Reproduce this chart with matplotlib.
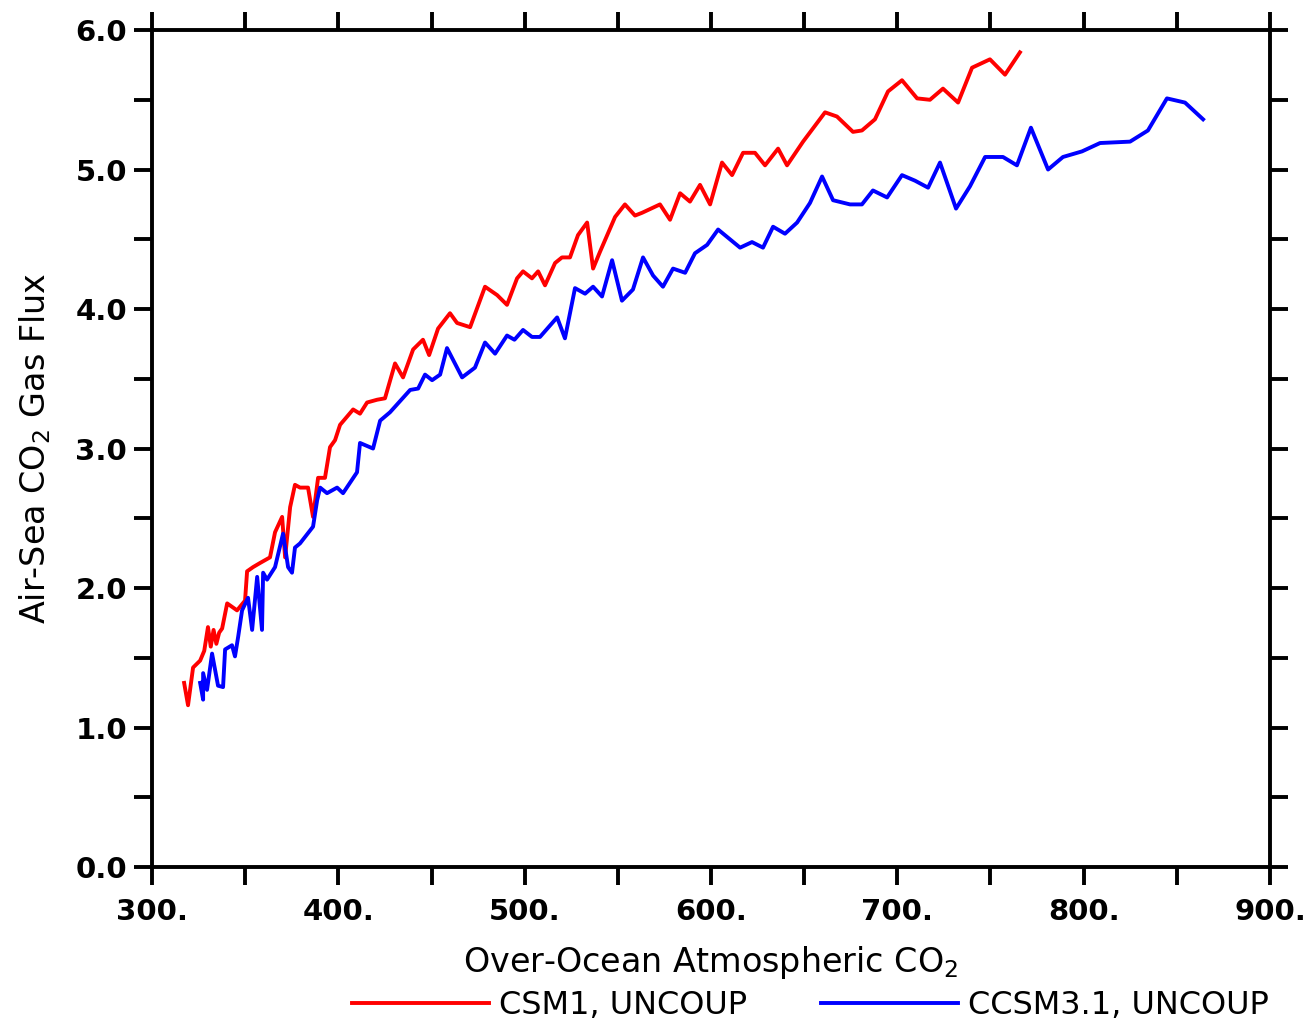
import numpy as np
import matplotlib
matplotlib.use('Agg')
import matplotlib.pyplot as plt
from matplotlib.ticker import MultipleLocator, FormatStrFormatter

# CSM1, UNCOUP
csm1_co2 = [317.2, 319.3, 320.4, 322.0, 325.8, 328.0, 330.0, 331.5, 333.0, 334.5,
            336.0, 337.6, 340.3, 345.6, 349.9, 351.0, 354.2, 358.0, 363.3, 366.0,
            369.8, 371.4, 374.1, 376.7, 379.4, 383.7, 386.4, 389.1, 392.8, 395.5,
            398.2, 400.9, 407.9, 411.6, 415.4, 420.8, 425.0, 430.4, 434.7, 440.1,
            445.4, 448.7, 453.5, 459.9, 463.7, 470.7, 478.7, 485.2, 490.5, 495.9,
            499.1, 503.9, 507.2, 510.9, 516.3, 520.0, 524.3, 528.6, 533.5, 536.7,
            540.4, 548.5, 553.8, 559.2, 563.0, 572.6, 578.0, 583.4, 588.7, 594.1,
            599.5, 605.9, 611.3, 617.2, 623.6, 629.0, 636.0, 640.8, 649.4, 661.2,
            667.6, 676.2, 681.0, 688.0, 695.0, 702.5, 710.6, 717.5, 724.5, 732.6,
            740.1, 749.7, 757.8, 765.8]
csm1_flux = [1.32, 1.16, 1.27, 1.43, 1.48, 1.55, 1.72, 1.58, 1.70, 1.60,
             1.68, 1.71, 1.89, 1.84, 1.91, 2.12, 2.15, 2.18, 2.22, 2.40,
             2.51, 2.22, 2.58, 2.74, 2.72, 2.72, 2.51, 2.79, 2.79, 3.01,
             3.06, 3.17, 3.28, 3.25, 3.33, 3.35, 3.36, 3.61, 3.51, 3.71,
             3.78, 3.67, 3.86, 3.97, 3.90, 3.87, 4.16, 4.10, 4.03, 4.22,
             4.27, 4.22, 4.27, 4.17, 4.33, 4.37, 4.37, 4.53, 4.62, 4.29,
             4.41, 4.66, 4.75, 4.67, 4.69, 4.75, 4.64, 4.83, 4.77, 4.89,
             4.75, 5.05, 4.96, 5.12, 5.12, 5.03, 5.15, 5.03, 5.20, 5.41,
             5.38, 5.27, 5.28, 5.36, 5.56, 5.64, 5.51, 5.50, 5.58, 5.48,
             5.73, 5.79, 5.68, 5.84]

# CCSM3.1, UNCOUP
ccsm3_co2 = [325.8, 327.4, 327.4, 329.5, 332.2, 335.4, 338.1, 339.2, 342.9, 344.5,
             346.2, 348.3, 351.5, 353.7, 356.4, 359.0, 359.6, 361.7, 366.0, 370.3,
             373.0, 375.1, 376.7, 379.4, 386.4, 388.6, 390.2, 393.9, 399.3, 402.5,
             410.0, 411.6, 418.6, 422.4, 427.7, 438.5, 442.8, 446.5, 450.3, 454.6,
             458.3, 466.4, 473.3, 478.7, 484.1, 490.5, 494.5, 499.1, 503.9, 508.2,
             517.4, 521.6, 527.0, 532.4, 536.7, 541.5, 546.9, 552.2, 558.1, 563.5,
             568.9, 574.2, 579.6, 586.1, 591.4, 597.9, 603.8, 615.6, 622.0, 627.9,
             633.3, 639.7, 646.2, 653.1, 659.6, 665.5, 674.6, 681.0, 686.9, 694.5,
             702.5, 709.5, 716.5, 722.9, 731.5, 739.0, 747.1, 756.7, 764.2, 771.7,
             780.9, 788.9, 799.1, 808.8, 824.9, 834.5, 844.7, 854.4, 864.1]
ccsm3_flux = [1.32, 1.20, 1.39, 1.27, 1.53, 1.30, 1.29, 1.56, 1.59, 1.51,
              1.65, 1.84, 1.93, 1.70, 2.08, 1.70, 2.11, 2.06, 2.15, 2.39,
              2.15, 2.11, 2.29, 2.32, 2.44, 2.63, 2.72, 2.68, 2.72, 2.68,
              2.83, 3.04, 3.00, 3.20, 3.26, 3.42, 3.43, 3.53, 3.49, 3.53,
              3.72, 3.51, 3.58, 3.76, 3.68, 3.81, 3.78, 3.85, 3.80, 3.80,
              3.94, 3.79, 4.15, 4.11, 4.16, 4.09, 4.35, 4.06, 4.14, 4.37,
              4.24, 4.16, 4.29, 4.26, 4.40, 4.46, 4.57, 4.44, 4.48, 4.44,
              4.59, 4.54, 4.62, 4.76, 4.95, 4.78, 4.75, 4.75, 4.85, 4.80,
              4.96, 4.92, 4.87, 5.05, 4.72, 4.88, 5.09, 5.09, 5.03, 5.30,
              5.00, 5.09, 5.13, 5.19, 5.20, 5.28, 5.51, 5.48, 5.36]

plt.rcParams['font.family'] = ['DejaVu Sans']

fig = plt.figure(figsize=(13.11, 10.25), dpi=100)
ax = fig.add_axes([0.116, 0.1541, 0.8527, 0.8166])

ax.plot(csm1_co2, csm1_flux, color='#ff0000', lw=2.8, label='CSM1, UNCOUP')
ax.plot(ccsm3_co2, ccsm3_flux, color='#0000ff', lw=2.8, label='CCSM3.1, UNCOUP')

ax.set_xlim(300, 900)
ax.set_ylim(0, 6)
ax.xaxis.set_major_locator(MultipleLocator(100))
ax.xaxis.set_minor_locator(MultipleLocator(50))
ax.yaxis.set_major_locator(MultipleLocator(1))
ax.yaxis.set_minor_locator(MultipleLocator(0.5))
ax.xaxis.set_major_formatter(FormatStrFormatter('%d.'))
ax.yaxis.set_major_formatter(FormatStrFormatter('%.1f'))

for s in ax.spines.values():
    s.set_linewidth(2.8)
ax.tick_params(which='both', direction='out', length=13, width=2.8,
               top=True, right=True, labelsize=21)
for lab in ax.get_xticklabels() + ax.get_yticklabels():
    lab.set_fontweight('bold')
ax.tick_params(axis='x', pad=9)
ax.tick_params(axis='y', pad=5)

ax.set_xlabel('Over-Ocean Atmospheric CO$_2$', fontsize=24, labelpad=13)
ax.set_ylabel('Air-Sea CO$_2$ Gas Flux', fontsize=24, labelpad=16)

fig.legend(loc='lower center', bbox_to_anchor=(0.618, -0.024), ncol=2,
           frameon=False, fontsize=23, handlelength=4.3, handletextpad=0.3,
           columnspacing=2.3, handleheight=0.6)

fig.savefig('out.png', dpi=100)
